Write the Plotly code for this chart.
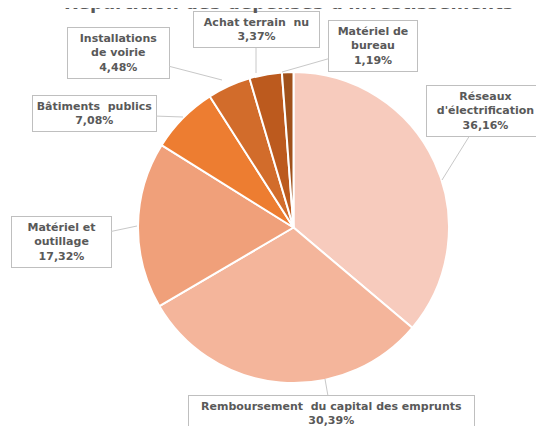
import plotly.graph_objects as go

# ─── DATA ────────────────────────────────────────────────────────────────────
labels = [
    "Réseaux d'électrification",
    "Remboursement du capital des emprunts",
    "Matériel et outillage",
    "Bâtiments publics",
    "Installations de voirie",
    "Achat terrain nu",
    "Matériel de bureau",
]
shares = [36.16, 30.39, 17.32, 7.08, 4.48, 3.37, 1.19]
box_texts = [
    "Réseaux<br>d'électrification<br>36,16%",
    "Remboursement  du capital des emprunts<br>30,39%",
    "Matériel et<br>outillage<br>17,32%",
    "Bâtiments  publics<br>7,08%",
    "Installations<br>de voirie<br>4,48%",
    "Achat terrain  nu<br>3,37%",
    "Matériel de<br>bureau<br>1,19%",
]
colors = ["#F7CBBD", "#F4B59B", "#F0A07A", "#ED7D31", "#D26C2B", "#BC5A1E", "#A0511B"]

# page has an 8px body margin, so the figure is 8px smaller and coords shifted
OFF = 8
W, H = 544 - OFF, 426 - OFF
TXT = "#595959"
FONT = "DejaVu Sans, Verdana, sans-serif"


def px(x, y):
    return (x - OFF) / W, 1 - (y - OFF) / H


x0, y1 = px(138, 72)
x1, y0 = px(449, 383)

fig = go.Figure(go.Pie(
    labels=labels,
    values=shares,
    sort=False,
    direction="clockwise",
    rotation=0,
    marker=dict(colors=colors, line=dict(color="white", width=2)),
    textinfo="none",
    hoverinfo="label+percent",
    domain=dict(x=[x0, x1], y=[y0, y1]),
))

# callout boxes: (box centre px, anchor point on pie edge px, text width)
callouts = [
    ((485, 111), (442, 180), 109),
    ((331, 413), (325, 379), 277),
    ((61, 242), (137, 226), 91),
    ((94, 114), (183, 117), 115),
    ((118, 53), (222, 80), 93),
    ((256, 30), (256, 73), 117),
    ((373, 46), (282, 72), 80),
]

annotations = []
for text, (bc, pt, w) in zip(box_texts, callouts):
    x, y = px(*pt)
    annotations.append(dict(
        x=x, y=y, xref="paper", yref="paper",
        ax=bc[0] - pt[0], ay=bc[1] - pt[1],
        text=f"<b>{text}</b>",
        showarrow=True, arrowhead=0, arrowwidth=1, arrowcolor="#C8C8C8",
        font=dict(family=FONT, size=11, color=TXT),
        align="center", width=w,
        bgcolor="white", bordercolor="#BFBFBF", borderwidth=1, borderpad=4,
    ))

# title sits mostly above the visible area, as in the reference
tx, ty = px(289, 2)
annotations.append(dict(
    x=tx, y=ty, xref="paper", yref="paper",
    xanchor="center", yanchor="middle", showarrow=False,
    text="<b>Répartition des dépenses d'investissements</b>",
    font=dict(family=FONT, size=18, color=TXT),
))

fig.update_layout(
    width=W, height=H,
    margin=dict(l=0, r=0, t=0, b=0),
    paper_bgcolor="white",
    showlegend=False,
    annotations=annotations,
)

fig.write_html("out.html")
